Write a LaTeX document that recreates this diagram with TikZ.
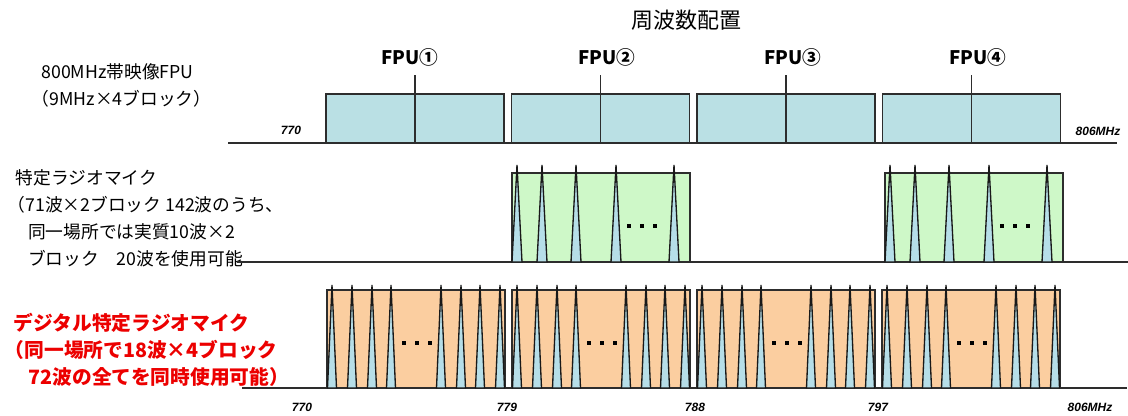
\documentclass[tikz,border=0pt]{standalone}
\usepackage{fontspec}
\setmainfont{Liberation Sans}
\newfontfamily\jp{Noto Sans CJK JP}
\usepackage{xcolor}
\usepackage{tikz}
\usetikzlibrary{positioning}
\definecolor{fpublue}{RGB}{186,224,228}
\definecolor{micgreen}{RGB}{206,248,200}
\definecolor{digorange}{RGB}{251,206,160}
\definecolor{wavecyan}{RGB}{182,222,232}
\definecolor{linegray}{RGB}{45,45,45}
\definecolor{digred}{RGB}{236,0,0}
\tikzset{
  axis/.style={draw=linegray,line width=1.1pt},
  fpublk/.style={draw=linegray,line width=1.1pt,fill=fpublue},
  micblk/.style={draw=linegray,line width=1.1pt,fill=micgreen},
  digblk/.style={draw=linegray,line width=1.1pt,fill=digorange},
  wave/.style={draw=black!90,line width=1pt,fill=wavecyan,line join=miter},
  freq/.style={font=\fontsize{9}{10}\selectfont\bfseries\itshape},
  fpulbl/.style={font=\jp\fontsize{14}{16}\selectfont\bfseries},
  note/.style={anchor=west,align=left,font=\jp\fontsize{13.3}{20.3}\selectfont},
  rednote/.style={anchor=west,align=left,text=digred,font=\jp\fontsize{14.8}{20.3}\selectfont\bfseries},
}
\begin{document}
\begin{tikzpicture}[x=0.75pt,y=-0.75pt]
  \useasboundingbox (0,0) rectangle (1128,415);
  \node[font=\jp\fontsize{16.5}{18}\selectfont] (title) at (686,20) {周波数配置};

  % 800MHz band video FPU
  \node[note] (fpunote) at (27,85) {\hspace*{0.55em}800MHz帯映像FPU\\（9MHz×4ブロック）};
  \draw[axis] (228,143) -- (1117,143);
  \foreach \i in {0,...,3} {
    \draw[fpublk] ({326+185.5*\i},94) rectangle ++(178,49);
    \draw[linegray,line width=1pt] ({415+185.5*\i},75) -- ({415+185.5*\i},143);
  }
  \foreach \x/\n in {410/①,607/②,793/③,978/④}
    \node[fpulbl] (fpu\n) at (\x,57) {FPU\n};
  \node[freq] (f770a) at (291,130) {770};
  \node[freq] (f806a) at (1098,131) {806MHz};

  % analog radio microphones
  \node[note] (micnote) at (11,218) {特定ラジオマイク\\\hspace*{-0.45em}（71波×2ブロック 142波のうち、\\\hspace*{0.7em}同一場所では実質10波×2\\\hspace*{0.7em}ブロック\hspace{1em}20波を使用可能};
  \draw[axis] (237,262) -- (1128,262);
  \foreach \bx in {512,885} {
    \draw[micblk] (\bx,173) rectangle ++(178,89);
    \foreach \w in {5,30,64,104,162}
      \draw[wave] ({\bx+\w-5},262) -- ({\bx+\w},165) -- ({\bx+\w+5},262) -- cycle;
    \foreach \d in {-13,0,13}
      \fill ({\bx+130+\d-2},224) rectangle ++(4,4);
  }

  % digital radio microphones
  \node[rednote] (dignote) at (9,350) {デジタル特定ラジオマイク\\\hspace*{-0.45em}（同一場所で18波×4ブロック\\\hspace*{0.75em}72波の全てを同時使用可能）};
  \draw[axis] (242,388) -- (1127,388);
  \foreach \bx in {327,512,697,882} {
    \draw[digblk] (\bx,290) rectangle ++(178,98);
    \foreach \w in {5,25,45,64,114,134,153,173}
      \draw[wave] ({\bx+\w-4.5},388) -- ({\bx+\w},285) -- ({\bx+\w+4.5},388) -- cycle;
    \foreach \d in {-13,0,13}
      \fill ({\bx+90+\d-2},341) rectangle ++(4,4);
  }
  \foreach \x/\f in {302/770,507/779,695/788,878/797}
    \node[freq] (fb\f) at (\x,407) {\f};
  \node[freq] (f806b) at (1090,407) {806MHz};
\end{tikzpicture}
\end{document}
